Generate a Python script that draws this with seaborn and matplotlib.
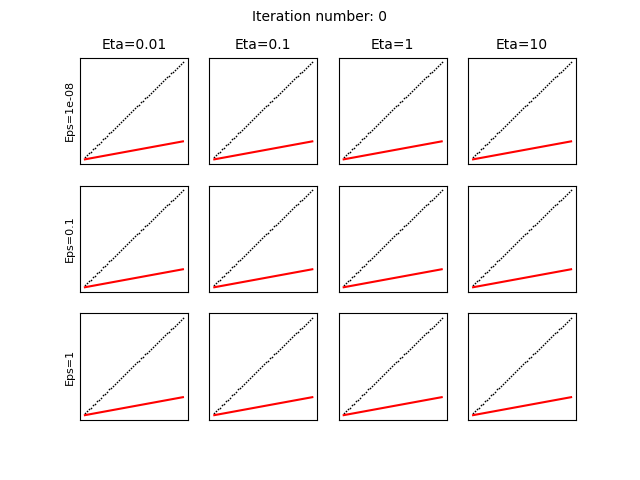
import matplotlib
matplotlib.use("Agg")
import matplotlib.pyplot as plt
import seaborn as sns

etas = [0.01, 0.1, 1, 10]
epss = [1e-08, 0.1, 1]
iteration = 0

x_pts = [0.00, 0.02, 0.04, 0.06, 0.08, 0.10, 0.12, 0.14, 0.16, 0.18,
         0.20, 0.22, 0.24, 0.26, 0.28, 0.30, 0.32, 0.34, 0.36, 0.38,
         0.40, 0.42, 0.44, 0.46, 0.48, 0.50, 0.52, 0.54, 0.56, 0.58,
         0.60, 0.62, 0.64, 0.66, 0.68, 0.70, 0.72, 0.74, 0.76, 0.78,
         0.80, 0.82, 0.84, 0.86, 0.88, 0.90, 0.92, 0.94, 0.96, 0.98]
y_pts = [0.02, 0.04, 0.06, 0.07, 0.10, 0.11, 0.14, 0.15, 0.17, 0.20,
         0.21, 0.23, 0.26, 0.27, 0.29, 0.31, 0.33, 0.35, 0.37, 0.39,
         0.41, 0.43, 0.45, 0.47, 0.49, 0.51, 0.53, 0.54, 0.57, 0.58,
         0.61, 0.62, 0.64, 0.66, 0.68, 0.70, 0.72, 0.74, 0.76, 0.78,
         0.80, 0.82, 0.83, 0.86, 0.87, 0.89, 0.91, 0.93, 0.95, 0.97]

line_x = [0.00, 0.98]
line_y = [0.00, 0.18]

fig, axes = plt.subplots(len(epss), len(etas), figsize=(6.4, 4.8), dpi=100)
fig.subplots_adjust(bottom=0.125)
fig.suptitle(f"Iteration number: {iteration}", fontsize=10)

for i, eps in enumerate(epss):
    for j, eta in enumerate(etas):
        ax = axes[i, j]
        sns.scatterplot(x=x_pts, y=y_pts, ax=ax, color="black", marker=".",
                        s=6, linewidth=0)
        sns.lineplot(x=line_x, y=line_y, ax=ax, color="red", linewidth=1.5)
        ax.set_xticks([])
        ax.set_yticks([])
        if i == 0:
            ax.set_title(f"Eta={eta}", fontsize=10)
        if j == 0:
            ax.set_ylabel(f"Eps={eps}", fontsize=8)

fig.savefig("out.png", dpi=100)
